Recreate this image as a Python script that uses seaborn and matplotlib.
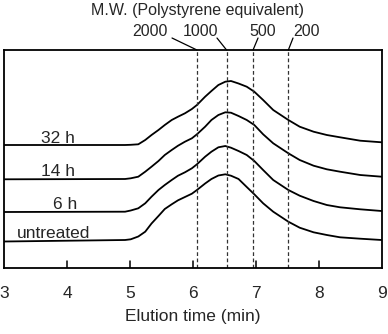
import matplotlib
matplotlib.use("Agg")
import matplotlib.pyplot as plt
import matplotlib.transforms as mtransforms
import numpy as np
import pandas as pd
import seaborn as sns

# elution time grid (min) and detector signal (arb. units)
time = [3.00, 4.92, 5.01, 5.13, 5.24, 5.34, 5.45, 5.55, 5.66, 5.76, 5.87, 5.98, 6.06, 6.19,
        6.29, 6.40, 6.51, 6.60, 6.72, 6.85, 6.97, 7.11, 7.27, 7.51, 7.69, 7.91, 8.12, 8.33,
        8.65, 8.99]
untreated = [26.5, 28.0, 28.7, 31.5, 36.3, 44.5, 52.0, 59.0, 63.7, 67.7, 71.0, 74.3, 78.0, 84.5,
             89.0, 92.5, 93.7, 92.3, 89.0, 81.0, 73.7, 64.7, 56.3, 46.3, 40.3, 35.7, 33.0, 30.7,
             29.3, 28.0]
h6 = [56.0, 56.3, 57.5, 59.7, 64.7, 71.3, 78.0, 83.0, 88.0, 92.3, 95.7, 99.7, 103.7, 111.3,
      116.3, 120.7, 122.0, 120.3, 117.0, 113.0, 107.0, 98.0, 88.0, 78.0, 72.3, 67.0, 63.0, 60.7,
      58.7, 57.0]
h14 = [88.7, 89.0, 89.7, 91.3, 96.3, 101.3, 107.0, 113.0, 118.0, 122.3, 126.3, 129.7, 133.7, 141.3,
       148.0, 153.0, 155.7, 155.3, 152.0, 148.0, 143.0, 133.7, 124.7, 114.7, 108.0, 102.3, 98.7,
       96.3, 93.0, 91.3]
h32 = [123.0, 123.0, 123.2, 123.7, 128.0, 133.0, 138.0, 143.0, 148.0, 151.3, 154.7, 159.0, 163.0,
       171.3, 177.0, 183.0, 186.3, 187.0, 184.5, 181.3, 176.3, 168.0, 158.0, 148.0, 141.3, 136.3,
       133.0, 130.7, 127.3, 125.7]

labels = ["untreated", "6 h", "14 h", "32 h"]
label_x = [3.79, 3.97, 3.86, 3.86]
label_y = [30, 59, 92, 125.3]

mw_values = ["2000", "1000", "500", "200"]
mw_positions = [6.06, 6.53, 6.95, 7.51]
mw_text_x = [5.32, 6.11, 7.11, 7.79]
mw_leader_x = [5.665, 6.378, 7.029, 7.584]
tick_pos = [4, 5, 6, 7, 8]

df = pd.DataFrame({"time": time * 4,
                   "signal": untreated + h6 + h14 + h32,
                   "sample": sum([[l] * len(time) for l in labels], [])})

sns.set_style("white")
plt.rcParams['font.family'] = ['Liberation Sans', 'DejaVu Sans']

fig = plt.figure(figsize=(3.88, 3.34), dpi=100)
ax = fig.add_axes([0.0103, 0.1976, 0.975, 0.6527])

for l in labels:
    sns.lineplot(data=df[df["sample"] == l], x="time", y="signal", color="black",
                 linewidth=1.3, ax=ax)

for xv in mw_positions:
    ax.axvline(xv, color="#333333", linewidth=0.9, linestyle=(0, (3, 2)))

# inward tick marks on the bottom spine
for xv in tick_pos:
    ax.axvline(xv, ymin=0, ymax=0.03, color="black", linewidth=1.1)

for l, xx, yy in zip(labels, label_x, label_y):
    ax.text(xx, yy, l, fontsize=12.5, ha="center", va="baseline")

# leader lines above the frame
trans = mtransforms.blended_transform_factory(ax.transData, ax.transAxes)
for xv, lx in zip(mw_positions, mw_leader_x):
    ax.plot([xv, lx], [1.0, 1.055], color="black", linewidth=0.9,
            transform=trans, clip_on=False)
for t, tx in zip(mw_values, mw_text_x):
    ax.text(tx, 1.087, t, fontsize=11.5, ha="center", va="center", transform=trans)

fig.text(0.508, 0.970, "M.W. (Polystyrene equivalent)", fontsize=11.5,
         ha="center", va="center")

ax.set_xlim(3, 9)
ax.set_ylim(0, 218)
ax.set_xticks([3, 4, 5, 6, 7, 8, 9])
ax.set_yticks([])
ax.tick_params(axis="x", length=0, pad=13, labelsize=12.5)
ax.set_xlabel("Elution time (min)", fontsize=12.5, labelpad=6)
ax.set_ylabel("")
for s in ax.spines.values():
    s.set_linewidth(1.3)
    s.set_color("black")

fig.savefig("out.png", dpi=100)
